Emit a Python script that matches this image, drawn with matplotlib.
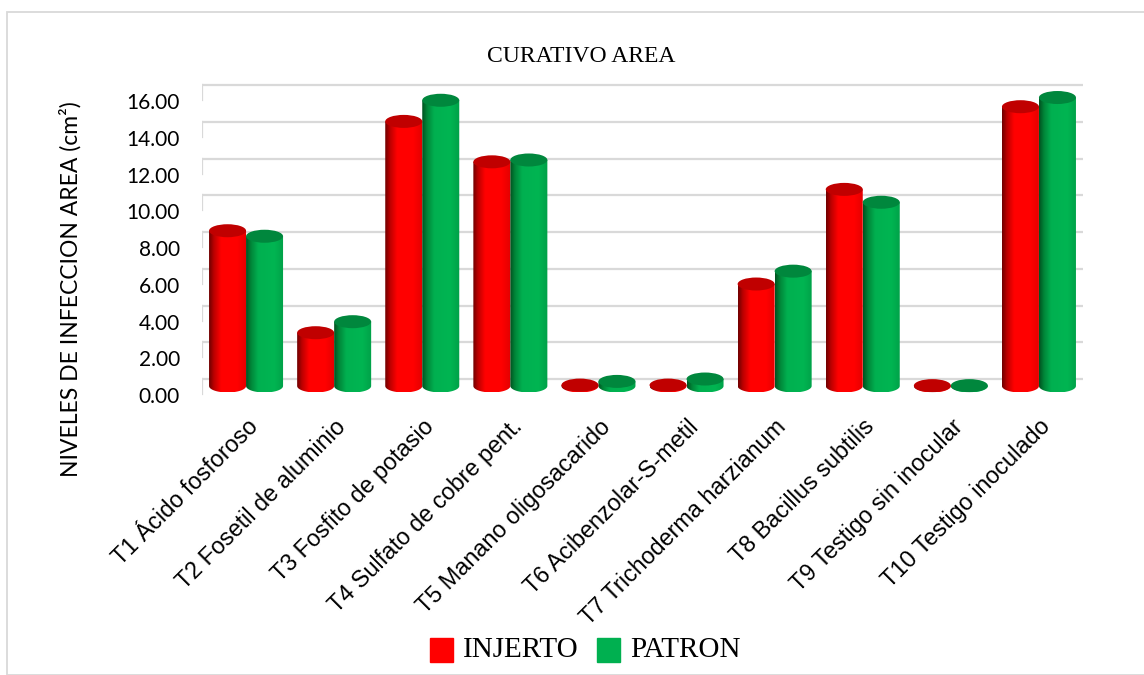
import numpy as np
import matplotlib.pyplot as plt
from matplotlib.patches import Ellipse, Rectangle, PathPatch
from matplotlib.path import Path
from matplotlib.colors import LinearSegmentedColormap

tratamientos = ["T1 Ácido fosforoso", "T2 Fosetil de aluminio", "T3 Fosfito de potasio",
                "T4 Sulfato de cobre pent.", "T5 Manano oligosacarido", "T6 Acibenzolar-S-metil",
                "T7 Trichoderma harzianum", "T8 Bacillus subtilis", "T9 Testigo sin inocular",
                "T10 Testigo inoculado"]
injerto = [8.45, 2.9, 14.4, 12.2, 0.05, 0.05, 5.55, 10.7, 0.02, 15.2]
patron = [8.15, 3.5, 15.55, 12.3, 0.25, 0.38, 6.25, 10.0, 0.02, 15.7]
niveles = [0, 2, 4, 6, 8, 10, 12, 14, 16]

W, H = 1144, 675
fig = plt.figure(figsize=(W / 100, H / 100), dpi=100)

# marco exterior
fig.patches.append(Rectangle((7 / W, 0), 1.2, 1 - 12 / H, transform=fig.transFigure,
                             fill=False, edgecolor='#d9d9d9', linewidth=1.3))

ax = fig.add_axes([202 / W, 1 - 400 / H, 881 / W, 340 / H])
for s in ax.spines.values():
    s.set_visible(False)

# escala: 18.375 px por unidad, pared del fondo desplazada
px = 18.375
fondo = 7 / px
b = 6.5 / px          # semi-altura de la elipse
ancho = 0.42

rojo = LinearSegmentedColormap.from_list('rojo', [(0, '#6e0000'), (0.13, '#bb0000'), (0.32, '#ff0000'),
                                                  (0.75, '#ff0000'), (1, '#e20000')])
verde = LinearSegmentedColormap.from_list('verde', [(0, '#00501f'), (0.13, '#008538'), (0.32, '#00b050'),
                                                    (0.75, '#00b552'), (1, '#00a048')])
grad = np.linspace(0, 1, 256).reshape(1, -1)


def cilindro(xc, val, cmap, tapa):
    x0, x1 = xc - ancho / 2, xc + ancho / 2
    t = np.linspace(np.pi, 2 * np.pi, 40)
    verts = [(x0, val)] + list(zip(xc + ancho / 2 * np.cos(t), b * np.sin(t))) + [(x1, val), (x0, val)]
    codes = [Path.MOVETO] + [Path.LINETO] * (len(verts) - 2) + [Path.CLOSEPOLY]
    cuerpo = PathPatch(Path(verts, codes), facecolor='none', edgecolor='none')
    ax.add_patch(cuerpo)
    im = ax.imshow(grad, cmap=cmap, aspect='auto', extent=(x0, x1, -b, val),
                   origin='lower', zorder=2, interpolation='bilinear')
    im.set_clip_path(cuerpo)
    ax.add_patch(Ellipse((xc, val), ancho, 2 * b, facecolor=tapa, edgecolor='none', zorder=3))


# rejilla en la pared del fondo
for k in niveles:
    ax.plot([-0.5, 9.5], [k + fondo, k + fondo], color='#d9d9d9', lw=1.6, zorder=1)
    ax.plot([-0.5, -0.5], [k + fondo, k + fondo - 15 / px], color='#d9d9d9', lw=1.6, zorder=1)

for i in range(len(tratamientos)):
    cilindro(i - ancho / 2, injerto[i], rojo, '#c00000')
    cilindro(i + ancho / 2, patron[i], verde, '#00873d')

ax.set_xlim(-0.5, 9.5)
ax.set_ylim((386 - 400) / px, (386 - 60) / px)

ax.set_yticks([k - 0.5 for k in niveles])
ax.set_yticklabels([f"{k:.2f}" for k in niveles], fontfamily='Lato', fontsize=15)
ax.tick_params(axis='y', length=0, pad=16)

ax.set_xticks(range(len(tratamientos)))
ax.set_xticklabels(tratamientos, rotation=45, ha='right', va='top', rotation_mode='anchor',
                   fontfamily='Liberation Sans', fontsize=16.8)
ax.tick_params(axis='x', length=0, pad=11)

fig.text(70 / W, 1 - 289 / H, "NIVELES DE INFECCION AREA (cm²)", rotation=90,
         ha='center', va='center', fontfamily='Lato', fontsize=16.5)

fig.text(581 / W, 1 - 57 / H, "CURATIVO AREA", ha='center', va='center',
         fontfamily='Liberation Serif', fontsize=17)

# leyenda
for x, color, nombre in [(430, '#ff0000', 'INJERTO'), (597, '#00b050', 'PATRON')]:
    fig.patches.append(Rectangle((x / W, 1 - 662 / H), 23 / W, 24 / H,
                                 transform=fig.transFigure, color=color))
    fig.text((x + 33) / W, 1 - 650 / H, nombre, ha='left', va='center',
             fontfamily='Liberation Serif', fontsize=21)

fig.savefig('out.png', dpi=100)
